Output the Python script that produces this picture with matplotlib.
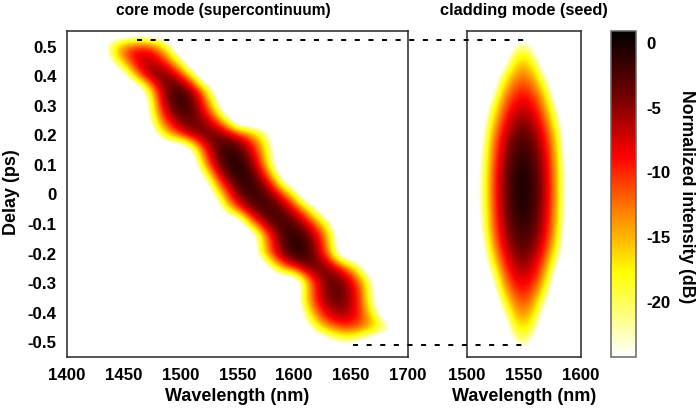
import matplotlib
matplotlib.use("Agg")
import matplotlib.pyplot as plt
import numpy as np
from matplotlib.colors import LinearSegmentedColormap, Normalize
from matplotlib.lines import Line2D

plt.rcParams['font.family'] = ['Liberation Sans', 'DejaVu Sans']
plt.rcParams['font.weight'] = 'bold'

FLOOR = -32
delays = [0.55, 0.50, 0.45, 0.40, 0.35, 0.30, 0.25, 0.20, 0.15, 0.10, 0.05, 0.0,
          -0.05, -0.10, -0.15, -0.20, -0.25, -0.30, -0.35, -0.40, -0.45, -0.50, -0.55]

core_wavelengths = list(range(1420, 1710, 10))
core_row_first = [1420, 1430, 1440, 1450, 1470, 1470, 1470, 1480, 1510, 1510, 1520, 1530,
                  1530, 1550, 1570, 1560, 1570, 1610, 1600, 1600, 1610, 1620, 1420]
core_row_db = [
    [],
    [-27, -18, -12, -9.4, -9.6, -14, -23],
    [-23, -13.6, -7.9, -6, -7.8, -13, -22],
    [-27, -14.5, -6.4, -3.1, -4.3, -9.3, -18, -31],
    [-23, -10, -2.9, -1.7, -5.3, -13.4, -26],
    [-26, -12, -3.8, -1, -3.1, -9.6, -20],
    [-27, -16, -8.3, -4, -3.1, -5.4, -11, -20],
    [-23, -15, -9.2, -5.2, -3.2, -3.2, -4.7, -7.8, -12.4, -18.6, -26],
    [-24.5, -11.8, -4, -1, -2.2, -6.5, -13.8, -24],
    [-29, -15.6, -6.4, -1.3, -0.1, -3.2, -10.9, -23],
    [-26, -13.4, -5.1, -1, -1, -5.1, -13.4, -26],
    [-23, -12, -4.7, -1.3, -1.5, -4.9, -11.3, -20.7],
    [-30, -19, -10.5, -4.9, -2, -1.7, -4, -8.9, -16.3, -26],
    [-30, -17, -7.9, -2.8, -1.5, -3.2, -7.1, -13.4, -22],
    [-21.6, -9.9, -2.8, -0.5, -2.2, -7.5, -16, -28],
    [-30.6, -18.5, -9.5, -3.5, -0.8, -1.3, -6.1, -15.4, -29],
    [-32, -22, -13.7, -7.8, -4.2, -3, -4.4, -8.5, -15.5, -25],
    [-18.8, -8.4, -3.4, -3.6, -7.4, -14.7, -25.4],
    [-28, -16.4, -8.3, -3.9, -3.2, -6.5, -14, -25.7],
    [-31.5, -20, -11.6, -6.7, -5, -6.9, -12.5, -22],
    [-26.5, -18.6, -13.2, -10.5, -10.1, -11.6, -14.7, -19.4, -25.7],
    [-30, -27, -24, -24, -27, -30],
    [],
]

clad_wavelengths = list(range(1510, 1600, 10))
clad_db = [
    [FLOOR, FLOOR, FLOOR, FLOOR, -30, FLOOR, FLOOR, FLOOR, FLOOR],
    [FLOOR, FLOOR, FLOOR, -25.1, -20.9, -27.2, FLOOR, FLOOR, FLOOR],
    [FLOOR, FLOOR, -30.8, -19.9, -16.7, -21.4, FLOOR, FLOOR, FLOOR],
    [FLOOR, FLOOR, -23.3, -15.4, -13.1, -16.5, -25.6, FLOOR, FLOOR],
    [FLOOR, -29.3, -18.2, -11.8, -9.9, -12.7, -20, FLOOR, FLOOR],
    [FLOOR, -24.3, -14.6, -8.9, -7.2, -9.7, -16.2, -26.8, FLOOR],
    [FLOOR, -21.3, -11.9, -6.5, -4.9, -7.3, -13.5, -23.6, FLOOR],
    [-30, -17.9, -9.4, -4.4, -3, -5.2, -10.8, -20, FLOOR],
    [-28.6, -16.5, -8, -3, -1.6, -3.8, -9.4, -18.6, -31.4],
    [-27.6, -15.5, -7, -2.1, -0.7, -2.8, -8.4, -17.6, -30.4],
    [-27.1, -15, -6.5, -1.5, -0.1, -2.3, -7.9, -17.1, -29.9],
    [-27, -14.9, -6.4, -1.4, 0, -2.2, -7.8, -17, -29.8],
    [-27.3, -15.2, -6.7, -1.8, -0.4, -2.5, -8.1, -17.3, -30.1],
    [-28, -15.9, -7.4, -2.5, -1.1, -3.2, -8.8, -18, -30.8],
    [-29.2, -17.1, -8.6, -3.6, -2.2, -4.3, -10, -19.2, FLOOR],
    [FLOOR, -20, -10.6, -5.2, -3.6, -6, -12.2, -22.3, FLOOR],
    [FLOOR, -24.1, -13.5, -7.3, -5.5, -8.2, -15.3, -26.8, FLOOR],
    [FLOOR, -28.7, -16.8, -9.8, -7.8, -10.8, -18.7, -31.6, FLOOR],
    [FLOOR, FLOOR, -21.4, -13, -10.5, -14.2, -23.8, FLOOR, FLOOR],
    [FLOOR, FLOOR, -26.4, -16.5, -13.6, -17.9, -29.2, FLOOR, FLOOR],
    [FLOOR, FLOOR, -32, -20.6, -17.1, -22.4, FLOOR, FLOOR, FLOOR],
    [FLOOR, FLOOR, FLOOR, -25.2, -21, -27.4, FLOOR, FLOOR, FLOOR],
    [FLOOR, FLOOR, FLOOR, FLOOR, -27, FLOOR, FLOOR, FLOOR, FLOOR],
]

delay_ticks = [0.5, 0.4, 0.3, 0.2, 0.1, 0, -0.1, -0.2, -0.3, -0.4, -0.5]
delay_labels = ['0.5', '0.4', '0.3', '0.2', '0.1', '0', '-0.1', '-0.2', '-0.3', '-0.4', '-0.5']
core_ticks = [1400, 1450, 1500, 1550, 1600, 1650, 1700]
clad_ticks = [1500, 1550, 1600]
cbar_ticks = [0, -5, -10, -15, -20]
cbar_labels = ['0', '-5', '-10', '-15', '-20']

read_db = [-32, -26, -23, -18, -12, -8, 0]
true_db = [-32, -25, -21, -16.6, -11.5, -8, 0]

W, H = 697, 408


def box(x0, y0, x1, y1):
    return [x0 / W, 1 - y1 / H, (x1 - x0) / W, (y1 - y0) / H]


def calibrate(m):
    # colour readings of the ridge against the colour bar
    return np.interp(m, read_db, true_db)


core_matrix = np.full((len(delays), len(core_wavelengths)), float(FLOOR))
for r, (first, vals) in enumerate(zip(core_row_first, core_row_db)):
    c0 = core_wavelengths.index(first)
    core_matrix[r, c0:c0 + len(vals)] = vals
clad_matrix = np.array(clad_db, dtype=float)

VMIN, VMAX = -24.2, 0.9
stops = [(VMAX, '#000000'), (-4.0, '#6e0000'), (-8.8, '#ff0000'), (-13.0, '#ff8000'),
         (-17.7, '#ffff00'), (-21.0, '#ffff80'), (VMIN, '#ffffff')]
stops = sorted(((v - VMIN) / (VMAX - VMIN), c) for v, c in stops)
cmap = LinearSegmentedColormap.from_list('delay', stops, N=512)
norm = Normalize(VMIN, VMAX)

fig = plt.figure(figsize=(W / 100, H / 100), dpi=100)
ax1 = fig.add_axes(box(66.5, 31, 408, 356.5))
ax2 = fig.add_axes(box(466.5, 31, 581, 356.5))
cax = fig.add_axes(box(610.7, 31, 636.3, 356.5))


def show(ax, matrix, wl):
    dw = (wl[1] - wl[0]) / 2
    dd = (delays[0] - delays[1]) / 2
    return ax.imshow(calibrate(matrix), cmap=cmap, norm=norm, aspect='auto', interpolation='bicubic',
                     extent=[wl[0] - dw, wl[-1] + dw, delays[-1] - dd, delays[0] + dd])


im = show(ax1, core_matrix, core_wavelengths)
show(ax2, clad_matrix, clad_wavelengths)

FS = 12.2
LS = 13.0
for ax, xl, xt in ((ax1, (1400, 1700), core_ticks), (ax2, (1500, 1600), clad_ticks)):
    ax.set_xlim(*xl)
    ax.set_ylim(-0.549, 0.554)
    ax.set_xticks(xt)
    ax.set_xticklabels([str(t) for t in xt], fontsize=FS, fontweight='bold')
    ax.tick_params(length=0, pad=8)
    for s in ax.spines.values():
        s.set_linewidth(1.1)
        s.set_color('#262626')
ax1.set_yticks(delay_ticks)
ax1.set_yticklabels(delay_labels, fontsize=FS, fontweight='bold')
ax1.tick_params(axis='y', pad=7)
ax2.set_yticks([])

cb = fig.colorbar(im, cax=cax)
cb.set_ticks(cbar_ticks)
cb.set_ticklabels(cbar_labels, fontsize=FS, fontweight='bold')
cb.ax.tick_params(length=0, pad=7)
cb.outline.set_edgecolor('#666666')
cb.outline.set_linewidth(1.1)

fig.text(223 / W, 1 - 10.5 / H, 'core mode (supercontinuum)', fontsize=11.2, fontweight='bold', ha='center', va='center')
fig.text(524 / W, 1 - 10.5 / H, 'cladding mode (seed)', fontsize=11.8, fontweight='bold', ha='center', va='center')
fig.text(237 / W, 1 - 396.5 / H, 'Wavelength (nm)', fontsize=LS, fontweight='bold', ha='center', va='center')
fig.text(524 / W, 1 - 396.5 / H, 'Wavelength (nm)', fontsize=LS, fontweight='bold', ha='center', va='center')
fig.text(11 / W, 1 - 192 / H, 'Delay (ps)', fontsize=LS, fontweight='bold', rotation=90, ha='center', va='center')
fig.text(686 / W, 1 - 197 / H, 'Normalized intensity (dB)', fontsize=12.7, fontweight='bold', rotation=270, ha='center', va='center')

for y, x0, x1 in ((39.7, 136.7, 527.7), (345, 353, 521.7)):
    fig.add_artist(Line2D([x0 / W, x1 / W], [1 - y / H, 1 - y / H], transform=fig.transFigure,
                          color='black', lw=1.4, linestyle=(0, (2.6, 4.4))))

fig.savefig('out.png', dpi=100)
